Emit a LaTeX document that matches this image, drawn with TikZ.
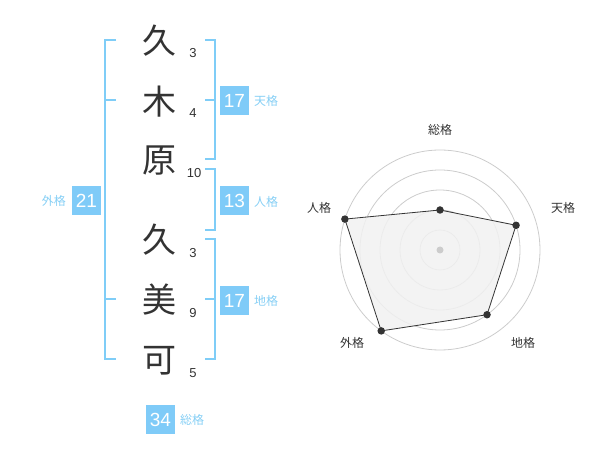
\documentclass[tikz,border=0pt]{standalone}
\usepackage{fontspec}
\setmainfont{Noto Sans CJK JP}
\newfontfamily\arialf{Liberation Sans}
\definecolor{brk}{HTML}{7FCDF7}
\definecolor{boxc}{HTML}{7FCBF8}
\definecolor{lbl}{HTML}{86CFF5}
\definecolor{ink}{HTML}{333333}
\definecolor{ringc}{HTML}{CCCCCC}
\definecolor{fillc}{HTML}{F1F1F1}
\tikzset{
  kanji/.style={font=\fontsize{34}{34}\selectfont, text=ink, inner sep=0pt},
  strk/.style={font=\arialf\fontsize{13}{13}\selectfont, text=ink, inner sep=0pt},
  bracket/.style={draw=brk, line width=2pt},
  valbox/.style={fill=boxc, text=white, minimum width=29pt, minimum height=29pt, inner sep=0pt, font=\arialf\fontsize{19}{19}\selectfont},
  kaku/.style={text=lbl, inner sep=0pt, font=\fontsize{12}{12}\selectfont},
  ring/.style={draw=ringc, line width=0.8pt},
  dot/.style={circle, fill=ink, minimum size=7.5pt, inner sep=0pt},
  axlbl/.style={text=ink, inner sep=0pt, font=\fontsize{12}{12}\selectfont}
}
\begin{document}
\begin{tikzpicture}[x=1pt,y=-1pt]
\useasboundingbox (0,0) rectangle (600,470);
% name characters
\node[kanji] (k1) at (159,41) {久};
\node[kanji] (k2) at (159,102) {木};
\node[kanji] (k3) at (159,161) {原};
\node[kanji] (k4) at (159,240) {久};
\node[kanji] (k5) at (159,300) {美};
\node[kanji] (k6) at (159,361) {可};
\node[strk] (s1) at (193,53) {3};
\node[strk] (s2) at (193,113) {4};
\node[strk] (s3) at (194,173) {10};
\node[strk] (s4) at (193,253) {3};
\node[strk] (s5) at (193,313) {9};
\node[strk] (s6) at (193,373) {5};
% brackets
\draw[bracket] (116,40) -- (105,40) -- (105,359) -- (116,359);
\draw[bracket] (105,100) -- (116,100);
\draw[bracket] (105,299) -- (116,299);
\draw[bracket] (205,40) -- (215,40) -- (215,159) -- (205,159);
\draw[bracket] (205,100) -- (215,100);
\draw[bracket] (205,169) -- (215,169) -- (215,230) -- (205,230);
\draw[bracket] (205,239) -- (215,239) -- (215,359) -- (205,359);
\draw[bracket] (205,299) -- (215,299);
% value boxes
\node[valbox] (ten) at (234.5,100.5) {17};
\node[kaku, anchor=west] (tenl) at (254,101) {天格};
\node[valbox] (jin) at (234.5,201) {13};
\node[kaku, anchor=west] (jinl) at (254,201.5) {人格};
\node[valbox] (chi) at (234.5,300.5) {17};
\node[kaku, anchor=west] (chil) at (254,301) {地格};
\node[valbox] (gai) at (86.5,200.5) {21};
\node[kaku, anchor=east] (gail) at (66,201) {外格};
\node[valbox] (sou) at (160.5,419.5) {34};
\node[kaku, anchor=west] (soul) at (180,420) {総格};
% radar
\coordinate (c) at (440,250);
\foreach \r in {20,40,60,80,100} \draw[ring] (c) circle[radius=\r];
\path (c) +(-90:40) coordinate (pS)
      (c) +(-18:80) coordinate (pT)
      (c) +(54:80) coordinate (pC)
      (c) +(126:100) coordinate (pG)
      (c) +(198:100) coordinate (pJ);
\filldraw[fill=fillc, fill opacity=0.85, draw=ink, line width=0.8pt] (pS) -- (pT) -- (pC) -- (pG) -- (pJ) -- cycle;
\foreach \p in {pS,pT,pC,pG,pJ} \node[dot] (d\p) at (\p) {};
\node[circle, fill=ringc, minimum size=7pt, inner sep=0pt] (cdot) at (c) {};
\node[axlbl] (aS) at (440,130) {総格};
\node[axlbl] (aT) at (563,208) {天格};
\node[axlbl] (aC) at (523,343) {地格};
\node[axlbl] (aG) at (352,343) {外格};
\node[axlbl] (aJ) at (319,208) {人格};
\end{tikzpicture}
\end{document}
